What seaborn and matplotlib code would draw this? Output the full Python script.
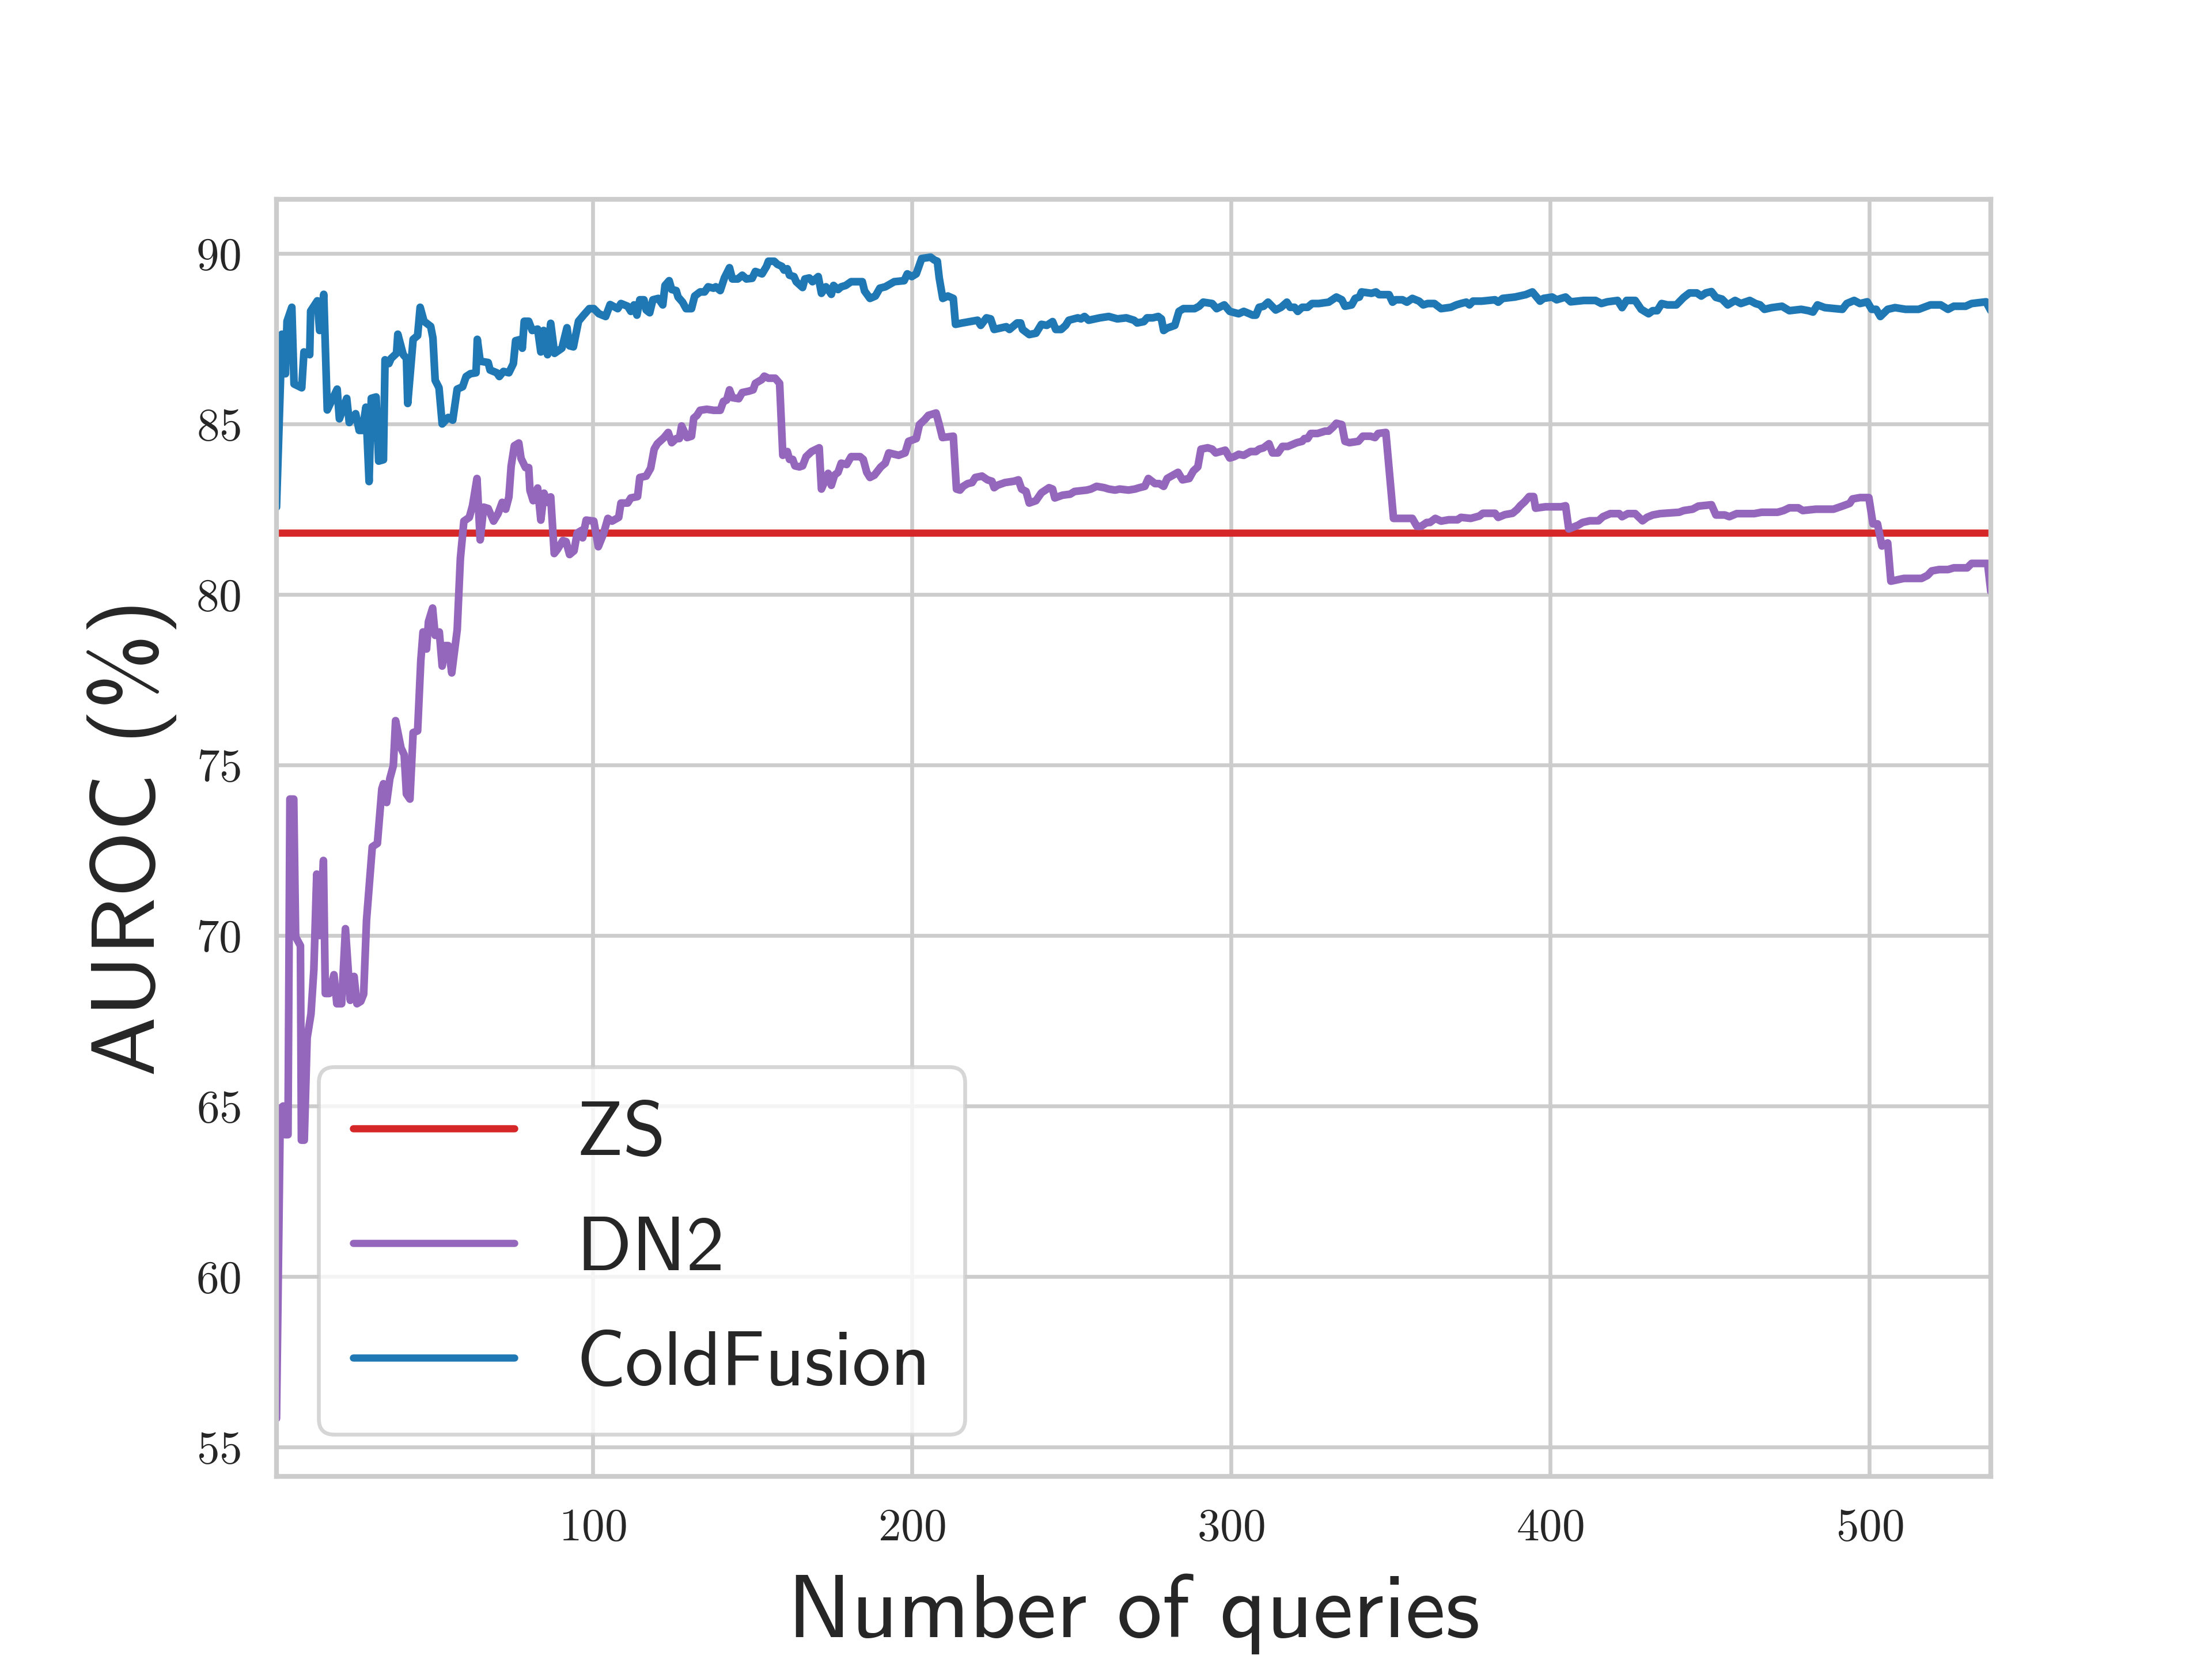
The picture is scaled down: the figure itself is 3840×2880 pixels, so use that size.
import matplotlib
matplotlib.use("Agg")
import matplotlib.pyplot as plt
import seaborn as sns

# valeurs (requêtes, AUROC en %)
zs_auroc = 81.8

dn2_queries = [
    1.0, 2.2, 3.1, 3.7, 4.6, 5.2, 6.4, 7.0, 8.5, 8.8, 9.7, 10.6, 11.8, 12.7, 13.6, 14.5,
    15.7, 16.3, 17.5, 19.0, 19.9, 21.4, 22.6, 24.1, 25.3, 26.2, 27.4, 28.3, 29.2, 31.0,
    32.6, 34.0, 34.5, 35.5, 36.5, 37.6, 38.3, 40.0, 41.0, 41.7, 42.8, 43.8, 45.2, 46.2,
    46.9, 48.0, 48.6, 49.9, 50.7, 52.0, 52.9, 53.8, 54.8, 55.9, 57.6, 58.6, 59.7, 61.4,
    62.4, 63.8, 64.8, 65.9, 67.3, 69.0, 70.4, 71.7, 72.8, 73.8, 74.5, 75.5, 76.9, 77.6,
    79.0, 80.0, 80.4, 81.4, 82.8, 83.8, 84.8, 85.9, 86.9, 88.0, 89.0, 90.7, 91.7, 92.8,
    94.2, 95.2, 96.6, 96.9, 98.0, 100.4, 101.8,
    103.4, 104.8, 106.1, 108.2, 108.9, 111.0, 112.0, 114.1, 114.8, 116.8, 118.2, 119.3,
    120.3, 122.4, 123.7, 124.8, 126.2, 127.2, 127.9, 129.6, 131.0, 131.7, 132.7, 133.7,
    135.8, 137.9, 140.0, 141.0, 142.0, 142.9, 143.8, 145.8, 146.9, 148.9, 150.3, 151.0,
    153.0, 153.8, 155.1, 157.2, 158.6, 159.6, 161.0, 161.7, 162.7, 163.4, 164.8, 165.8,
    166.9, 168.6, 171.0, 171.7, 173.8, 174.8, 175.8, 176.9, 177.9, 179.6, 181.0, 183.8,
    184.8, 185.9, 186.9, 188.3, 190.3, 191.7, 192.8, 195.9, 197.9, 199.0, 201.4, 202.4,
    204.1, 205.2, 207.6, 208.6,
    209.6, 213.0, 214.0, 215.1, 216.1, 217.5, 218.9, 219.9, 222.0, 223.7, 225.1, 225.8,
    226.8, 229.2, 232.0, 233.4, 234.4, 235.8, 236.8, 238.9, 240.6, 243.0, 244.1, 244.8,
    247.2, 249.6, 251.0, 254.8, 256.1, 257.9, 260.3, 261.7, 263.7, 265.1, 267.9, 269.9,
    271.3, 273.0, 274.1, 276.2, 277.5, 278.9, 280.0, 281.3, 283.4, 284.8, 286.9, 288.2,
    289.6, 290.6, 292.7, 294.1, 295.2, 298.2, 299.6, 301.0, 302.4,
    304.0, 306.1, 307.8, 308.8, 310.2, 311.9, 313.0, 314.7, 316.1, 317.8, 320.6, 322.3,
    323.0, 324.0, 325.0, 327.1, 329.5, 330.6, 332.0, 333.0, 334.7, 335.7, 337.1, 339.9,
    341.3, 343.7, 345.1, 346.1, 348.5, 350.9, 353.0, 356.8, 358.2, 359.6, 361.3, 362.3,
    364.0, 365.8, 368.2, 371.0, 372.0, 375.1, 377.8, 378.9, 382.7, 383.7, 385.8, 388.2,
    389.6, 390.6, 392.0, 393.4, 394.8, 395.4, 398.5, 403.4, 404.8, 405.8,
    408.7, 410.1, 412.4, 415.1, 416.5, 418.8, 421.6, 422.5, 424.3, 426.6, 428.9, 430.3,
    432.1, 434.4, 440.4, 441.8, 444.6, 446.4, 450.5, 451.9, 454.7, 456.1, 458.4, 463.9,
    466.2, 471.2, 473.1, 474.9, 477.7, 479.1, 483.2, 488.7, 491.5, 493.8, 494.7, 497.0,
    499.8, 501.1, 502.5, 503.9, 505.7, 506.7, 510.8, 516.3, 518.2, 519.5, 521.8, 524.6,
    526.4, 530.6, 532.0, 537.0, 538.0,
]
dn2_auroc = [
    55.84, 64.93, 65.00, 64.16, 64.16, 74.00, 74.00, 69.96, 69.70, 64.00, 64.00, 67.00,
    67.70, 69.00, 71.80, 70.00, 72.20, 68.30, 68.30, 68.85, 68.00, 68.00, 70.20, 68.10,
    68.80, 68.00, 68.07, 68.28, 70.45, 72.60, 72.70, 74.30, 74.45, 73.90, 74.60, 74.98,
    76.30, 75.50, 75.30, 74.15, 74.00, 75.95, 76.00, 78.06, 78.90, 78.40, 79.20, 79.60,
    78.80, 78.90, 77.90, 78.50, 78.50, 77.70, 78.96, 81.06, 82.15, 82.26, 82.60, 83.40,
    81.60, 82.56, 82.52, 82.15, 82.37, 82.70, 82.50, 82.86, 83.76, 84.36, 84.44, 83.99,
    83.72, 83.72, 83.05, 82.75, 83.12, 82.18, 82.97, 82.70, 82.86, 81.20, 81.32, 81.58,
    81.55, 81.17, 81.28, 81.80, 81.88, 81.66, 82.18, 82.15, 81.40,
    81.77, 82.23, 82.15, 82.26, 82.68, 82.68, 82.83, 82.87, 83.43, 83.47, 83.70, 84.26,
    84.42, 84.60, 84.75, 84.45, 84.57, 84.57, 84.94, 84.60, 84.64, 85.17, 85.25, 85.40,
    85.43, 85.40, 85.40, 85.66, 85.70, 86.00, 85.77, 85.74, 85.92, 85.96, 86.00, 86.19,
    86.30, 86.40, 86.34, 86.34, 86.19, 84.08, 84.19, 83.96, 83.96, 83.77, 83.74, 83.77,
    84.04, 84.19, 84.30, 83.09, 83.55, 83.20, 83.50, 83.58, 83.85, 83.81, 84.04, 84.04,
    83.96, 83.58, 83.43, 83.50, 83.74, 83.85, 84.15, 84.08, 84.15, 84.49, 84.57, 84.98,
    85.13, 85.25, 85.32, 84.98,
    84.60, 84.64, 83.09, 83.06, 83.17, 83.25, 83.28, 83.43, 83.47, 83.36, 83.32, 83.13,
    83.20, 83.28, 83.32, 83.36, 83.09, 83.02, 82.68, 82.75, 82.98, 83.13, 83.09, 82.83,
    82.91, 82.94, 83.02, 83.06, 83.09, 83.17, 83.13, 83.09, 83.06, 83.09, 83.06, 83.09,
    83.13, 83.17, 83.40, 83.25, 83.25, 83.17, 83.40, 83.47, 83.58, 83.36, 83.40, 83.62,
    83.74, 84.26, 84.30, 84.26, 84.15, 84.23, 84.00, 84.04, 84.11,
    84.08, 84.19, 84.19, 84.26, 84.30, 84.42, 84.15, 84.15, 84.34, 84.34, 84.45, 84.49,
    84.57, 84.57, 84.72, 84.72, 84.79, 84.79, 84.91, 85.02, 84.98, 84.49, 84.45, 84.49,
    84.64, 84.64, 84.60, 84.72, 84.75, 82.23, 82.23, 82.23, 82.00, 82.00, 82.11, 82.11,
    82.23, 82.15, 82.19, 82.19, 82.26, 82.23, 82.30, 82.38, 82.38, 82.26, 82.34, 82.38,
    82.49, 82.60, 82.72, 82.87, 82.87, 82.53, 82.57, 82.57, 82.60, 81.92,
    82.03, 82.11, 82.16, 82.16, 82.28, 82.37, 82.37, 82.28, 82.37, 82.37, 82.16, 82.26,
    82.33, 82.37, 82.41, 82.46, 82.50, 82.59, 82.63, 82.33, 82.33, 82.28, 82.37, 82.37,
    82.41, 82.41, 82.46, 82.54, 82.54, 82.46, 82.50, 82.50, 82.59, 82.67, 82.80, 82.84,
    82.84, 82.07, 82.07, 81.42, 81.51, 80.39, 80.47, 80.47, 80.56, 80.69, 80.73, 80.73,
    80.78, 80.78, 80.91, 80.91, 80.09,
]

coldfusion_queries = [
    1.0, 2.7, 3.8, 4.3, 5.8, 6.5, 8.9, 9.6, 11.4, 11.7, 13.8, 14.5, 15.8, 16.9, 20.0,
    20.7, 23.0, 23.8, 25.8, 26.9, 27.9, 29.0, 30.0, 30.7, 32.2, 33.0, 34.5, 35.0, 36.2,
    36.9, 38.6, 39.0, 40.7, 41.7, 42.1, 43.8, 45.2, 46.0, 47.2, 49.3, 50.0, 50.7, 51.9,
    52.9, 54.8, 56.2, 57.6, 59.3, 60.4, 61.7, 63.5, 63.9, 64.8, 67.3, 67.9, 70.0, 70.8,
    72.1, 73.8, 75.2, 75.9, 77.6, 78.0, 78.6, 80.0, 81.1, 82.8, 83.8, 84.7, 85.9, 86.9,
    88.1, 90.4, 92.0, 92.8, 94.0, 95.6, 97.3, 99.0, 100.4,
    102.0, 104.1, 105.5, 107.9, 108.9, 111.0, 112.0, 113.0, 113.9, 114.8, 116.1, 116.8,
    117.9, 118.9, 120.6, 122.0, 122.7, 124.0, 124.8, 126.2, 126.8, 128.2, 129.3, 131.0,
    132.0, 133.7, 135.1, 136.2, 137.9, 138.6, 140.0, 141.3, 142.9, 143.8, 145.5, 146.9,
    148.2, 150.0, 151.0, 153.1, 154.5, 155.1, 156.9, 157.9, 159.3, 160.0, 161.0, 161.7,
    163.1, 163.8, 165.8, 166.5, 167.9, 168.9, 170.7, 171.7, 173.1, 174.1, 174.8, 175.5,
    176.9, 177.9, 179.3, 181.0, 184.5, 185.2, 186.9, 188.6, 190.0, 191.7, 194.5, 197.6,
    198.6, 200.0, 201.4, 203.1, 205.9, 207.0, 208.0, 208.6, 209.7,
    211.3, 213.0, 213.7, 215.8, 220.6, 221.6, 223.4, 224.7, 225.8, 229.6, 230.6, 233.0,
    234.1, 234.7, 236.8, 238.9, 240.6, 242.3, 244.1, 245.1, 246.8, 248.2, 249.2, 252.0,
    253.0, 254.1, 255.4, 258.9, 261.7, 264.4, 267.2, 269.6, 270.6, 272.7, 273.7, 275.5,
    277.2, 278.2, 278.9, 280.0, 282.4, 283.7, 285.1, 288.6, 290.0, 291.3, 294.1, 295.5,
    297.9, 299.6, 302.4,
    304.0, 306.8, 307.8, 308.8, 310.2, 311.6, 314.0, 315.7, 317.5, 318.5, 319.9, 320.9,
    322.3, 324.0, 325.4, 327.5, 330.6, 333.0, 334.7, 335.7, 337.8, 338.9, 340.2, 340.9,
    344.0, 345.4, 346.4, 349.5, 350.6, 351.6, 353.7, 355.1, 356.8, 358.9, 360.2, 361.6,
    363.7, 365.8, 368.9, 370.6, 372.0, 373.7, 374.7, 375.8, 378.5, 382.7, 383.7, 385.1,
    388.9, 392.3, 394.4, 396.8, 397.9, 400.6, 402.0, 404.8,
    406.4, 410.5, 414.2, 416.0, 417.9, 421.1, 422.5, 423.9, 426.6, 428.5, 430.8, 432.1,
    433.5, 434.9, 436.7, 439.5, 441.8, 443.6, 445.9, 447.3, 448.7, 450.5, 451.9, 453.8,
    455.6, 457.9, 459.7, 462.5, 464.3, 465.7, 467.1, 469.4, 472.6, 474.9, 478.6, 480.9,
    482.3, 483.7, 486.0, 491.5, 492.9, 495.2, 497.0, 499.3, 500.7, 502.1, 503.4, 505.7,
    508.0, 511.3, 515.4, 516.8, 519.1, 522.3, 524.6, 526.4, 530.1, 532.0, 536.5, 538.0,
]
coldfusion_auroc = [
    82.56, 87.63, 86.47, 88.01, 88.42, 86.17, 86.06, 87.11, 87.03, 88.31, 88.61, 87.74,
    88.80, 85.41, 86.02, 85.15, 85.75, 85.04, 85.30, 84.81, 84.81, 85.49, 83.31, 85.75,
    85.79, 83.91, 83.95, 86.88, 86.77, 86.92, 87.07, 87.63, 87.03, 86.92, 85.60, 87.48,
    87.59, 88.42, 88.01, 87.86, 87.52, 86.28, 86.06, 85.00, 85.19, 85.11, 86.02, 86.09,
    86.39, 86.47, 86.50, 87.48, 86.84, 86.80, 86.58, 86.50, 86.39, 86.54, 86.50, 86.77,
    87.44, 87.48, 87.22, 88.01, 88.01, 87.74, 87.78, 87.11, 87.74, 87.03, 87.95, 87.07,
    87.22, 87.82, 87.29, 87.26, 88.01, 88.20, 88.38, 88.38,
    88.23, 88.15, 88.50, 88.38, 88.53, 88.45, 88.30, 88.49, 88.19, 88.64, 88.64, 88.34,
    88.26, 88.64, 88.68, 88.49, 89.06, 89.20, 88.94, 88.91, 88.72, 88.57, 88.38, 88.38,
    88.75, 88.87, 88.87, 89.02, 88.98, 89.02, 88.91, 89.28, 89.58, 89.25, 89.25, 89.36,
    89.25, 89.27, 89.47, 89.40, 89.62, 89.77, 89.77, 89.68, 89.62, 89.51, 89.55, 89.36,
    89.32, 89.17, 89.00, 89.25, 89.28, 89.17, 89.32, 88.83, 89.02, 88.90, 88.80, 89.06,
    88.94, 89.02, 89.06, 89.17, 89.17, 88.90, 88.68, 88.75, 88.98, 89.02, 89.17, 89.20,
    89.40, 89.32, 89.40, 89.85, 89.89, 89.81, 89.77, 89.28, 88.68,
    88.75, 88.68, 87.92, 87.96, 88.04, 87.89, 88.11, 88.08, 87.77, 87.85, 87.77, 87.96,
    87.96, 87.77, 87.62, 87.66, 87.92, 87.89, 88.00, 87.77, 87.77, 87.89, 88.04, 88.11,
    88.08, 88.15, 88.04, 88.11, 88.15, 88.08, 88.11, 88.04, 87.96, 88.00, 88.11, 88.11,
    88.15, 88.08, 87.74, 87.81, 87.89, 88.30, 88.38, 88.38, 88.45, 88.57, 88.53, 88.38,
    88.49, 88.30, 88.23,
    88.30, 88.19, 88.19, 88.42, 88.45, 88.57, 88.34, 88.42, 88.57, 88.42, 88.42, 88.30,
    88.42, 88.42, 88.53, 88.53, 88.57, 88.72, 88.64, 88.45, 88.49, 88.68, 88.72, 88.87,
    88.83, 88.87, 88.79, 88.79, 88.57, 88.64, 88.64, 88.57, 88.68, 88.60, 88.49, 88.53,
    88.53, 88.38, 88.42, 88.49, 88.53, 88.57, 88.49, 88.60, 88.60, 88.64, 88.57, 88.68,
    88.72, 88.79, 88.87, 88.60, 88.68, 88.72, 88.64, 88.72,
    88.58, 88.62, 88.62, 88.53, 88.58, 88.62, 88.41, 88.62, 88.62, 88.36, 88.23, 88.32,
    88.32, 88.53, 88.49, 88.49, 88.71, 88.84, 88.84, 88.75, 88.84, 88.88, 88.71, 88.66,
    88.49, 88.62, 88.53, 88.62, 88.53, 88.49, 88.36, 88.41, 88.45, 88.32, 88.36, 88.32,
    88.28, 88.49, 88.41, 88.36, 88.53, 88.62, 88.53, 88.58, 88.36, 88.36, 88.15, 88.36,
    88.41, 88.36, 88.36, 88.41, 88.49, 88.49, 88.36, 88.45, 88.45, 88.53, 88.58, 88.32,
]

sns.set_theme(style="whitegrid", context="paper")
# chiffres des axes en Computer Modern, comme la figure LaTeX d'origine
plt.rcParams["font.family"] = ["cmr10", "DejaVu Serif"]
plt.rcParams["axes.formatter.use_mathtext"] = True
plt.rcParams["mathtext.fontset"] = "cm"
label_font = ["cmss10", "DejaVu Sans"]

fig, ax = plt.subplots(figsize=(6.4, 4.8), dpi=600)
fig.subplots_adjust(left=0.125, right=0.9, top=0.88, bottom=0.11)

ax.axhline(zs_auroc, color="#d62728", linewidth=1.5, label="ZS")
sns.lineplot(x=dn2_queries, y=dn2_auroc, color="#9467bd", linewidth=1.6,
             estimator=None, sort=False, label="DN2", ax=ax)
sns.lineplot(x=coldfusion_queries, y=coldfusion_auroc, color="#1f77b4", linewidth=1.6,
             estimator=None, sort=False, label="ColdFusion", ax=ax)

ax.set_xlim(1, 538)
ax.tick_params(axis="both", labelsize=9.5)
ax.tick_params(axis="x", pad=1.8)
ax.tick_params(axis="y", pad=2.6)
ax.set_xlabel("Number of queries", fontsize=18.8, family=label_font, labelpad=5)
ax.set_ylabel("AUROC (%)", fontsize=18.7, family=label_font, labelpad=4)

leg = ax.legend(loc="lower left", prop={"family": label_font, "size": 16},
                handlelength=2.1, labelspacing=0.6, borderpad=0.45,
                borderaxespad=0.55, frameon=True)
for handle in leg.get_lines():
    handle.set_linewidth(1.5)

fig.savefig("out.png", dpi=600)
plt.close(fig)
